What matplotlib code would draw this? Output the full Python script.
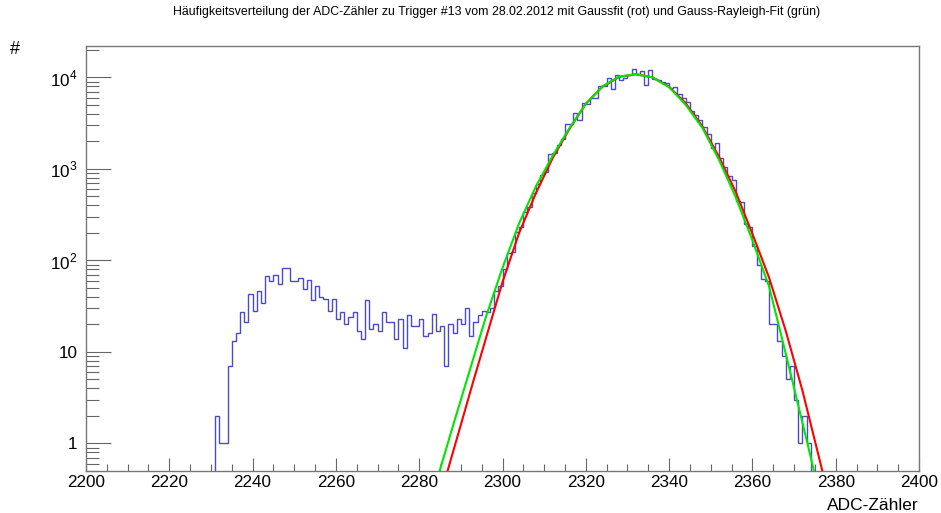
import numpy as np
import matplotlib
matplotlib.use('Agg')
import matplotlib.pyplot as plt
from matplotlib.ticker import FixedLocator, FixedFormatter, MultipleLocator, NullFormatter

plt.rcParams['font.family'] = ['Liberation Sans', 'DejaVu Sans']
plt.rcParams['mathtext.fontset'] = 'custom'
plt.rcParams['mathtext.rm'] = 'Liberation Sans'

# histogram: counts per ADC bin, first bin starts at 2231, bin width 1
first_bin = 2231
counts = [2, 1, 1, 7, 13, 16, 27, 21, 43, 28,
          46, 34, 68, 60, 70, 55, 82, 82, 60, 60,
          64, 49, 61, 37, 52, 40, 38, 28, 38, 23,
          27, 20, 24, 27, 17, 14, 37, 18, 20, 17,
          27, 21, 21, 14, 23, 11, 25, 19, 19, 23,
          15, 16, 26, 17, 19, 7, 20, 16, 23, 20,
          30, 15, 21, 25, 28, 27, 30, 46, 52, 80,
          119, 125, 205, 229, 334, 380, 541, 684, 865, 919,
          1462, 1500, 1803, 2136, 3069, 3100, 4093, 3452, 5272, 5093,
          5880, 6000, 8000, 8100, 9750, 7400, 10600, 9300, 9750, 10600,
          12200, 10900, 11800, 8200, 12000, 9700, 9300, 8900, 8600, 7600,
          7800, 6600, 5900, 5400, 4300, 3900, 3400, 2900, 2400, 1700,
          1900, 1300, 1043, 844, 760, 449, 430, 249, 229, 143,
          90, 62, 60, 20, 20, 13, 9, 5, 7, 3,
          1, 2, 1]

# Gauss fit (red)
gauss_x = [2286.8, 2290, 2293, 2296, 2300, 2304, 2308, 2312, 2316, 2320, 2324, 2328,
           2332, 2336, 2340, 2344, 2348, 2352, 2356, 2360, 2364, 2368, 2372, 2376.8]
gauss_y = [0.5, 1.6, 4.8, 14, 58, 200, 540, 1300, 2700, 5150, 7900, 10100,
           10800, 10000, 7900, 5200, 2900, 1350, 560, 195, 65, 17, 3.8, 0.5]

# Gauss-Rayleigh fit (green)
rayl_x = [2284.9, 2288, 2292, 2296, 2300, 2304, 2308, 2312, 2316, 2320, 2324, 2328,
          2332, 2336, 2340, 2344, 2348, 2352, 2356, 2360, 2364, 2368, 2372, 2374.8]
rayl_y = [0.5, 1.5, 6, 24, 83, 255, 640, 1380, 2750, 5150, 7950, 10200,
          10800, 10000, 7800, 5000, 2800, 1250, 490, 166, 52, 9.6, 1.7, 0.5]

x_ticks = list(range(2200, 2401, 20))
y_ticks = [1, 10, 100, 1000, 10000]
y_labels = ['1', '10', '$10^{2}$', '$10^{3}$', '$10^{4}$']

fig = plt.figure(figsize=(9.41, 5.13), dpi=100)
ax = fig.add_axes([86 / 941, 1 - 471 / 513, 833 / 941, 425 / 513])

edges = np.arange(first_bin, first_bin + len(counts) + 1)
ax.stairs(counts, edges, baseline=1e-3, color='#4b4bc6', lw=1.0, zorder=2)
ax.plot(gauss_x, gauss_y, color='#ff0000', lw=1.5, zorder=3)
ax.plot(rayl_x, rayl_y, color='#00e600', lw=1.5, zorder=4)

ax.set_yscale('log')
ax.set_xlim(2200, 2400)
ax.set_ylim(0.5, 22000)

ax.xaxis.set_major_locator(FixedLocator(x_ticks))
ax.xaxis.set_minor_locator(MultipleLocator(5))
ax.yaxis.set_major_locator(FixedLocator(y_ticks))
ax.yaxis.set_major_formatter(FixedFormatter(y_labels))
ax.yaxis.set_minor_locator(matplotlib.ticker.LogLocator(base=10, subs=np.arange(2, 10), numticks=20))
ax.yaxis.set_minor_formatter(NullFormatter())

ax.tick_params(axis='both', which='both', direction='in', colors='#666666', labelcolor='black',
               labelsize=12.3, top=False, right=False)
ax.tick_params(axis='y', which='major', length=18, width=0.8, pad=6)
ax.tick_params(axis='y', which='minor', length=9.4, width=0.8)
ax.tick_params(axis='x', which='major', length=9.4, width=0.8, pad=3)
ax.tick_params(axis='x', which='minor', length=4.7, width=0.8)
for s in ax.spines.values():
    s.set_color('#777777')
    s.set_linewidth(1.0)

fig.text(497 / 941, 1 - 12 / 513,
         'Häufigkeitsverteilung der ADC-Zähler zu Trigger #13 vom 28.02.2012 mit Gaussfit (rot) und Gauss-Rayleigh-Fit (grün)',
         ha='center', va='center', fontsize=8.9)
fig.text(15 / 941, 1 - 49 / 513, '#', ha='center', va='center', fontsize=13)
fig.text(919 / 941, 1 - 505 / 513, 'ADC-Zähler', ha='right', va='center', fontsize=12.5)

fig.savefig('out.png', dpi=100)
